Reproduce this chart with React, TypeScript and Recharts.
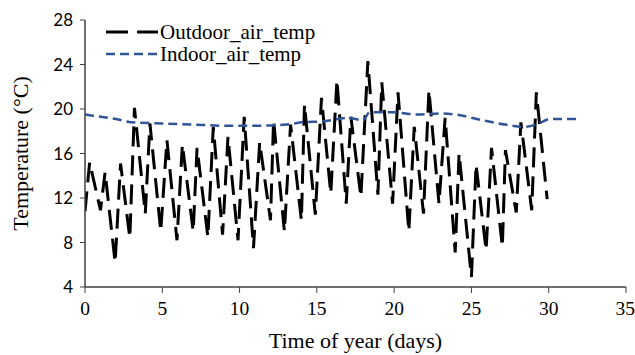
import { Legend, Line, LineChart, XAxis, YAxis } from "recharts";

// Outdoor air temperature: daily lows and highs (day, °C)
const OUT_DAYS = [
  0, 0.3, 1.0, 1.3, 1.95, 2.3, 2.9, 3.2, 3.9, 4.2, 4.9, 5.3, 5.95, 6.3, 7.0, 7.25,
  7.95, 8.3, 8.9, 9.25, 9.9, 10.3, 10.9, 11.3, 12.0, 12.2, 12.9, 13.3, 14.0, 14.2,
  14.9, 15.3, 15.9, 16.3, 16.9, 17.2, 17.85, 18.3, 18.95, 19.2, 19.9, 20.25, 20.95,
  21.3, 21.9, 22.25, 22.9, 23.3, 23.95, 24.2, 25.0, 25.3, 25.95, 26.3, 27.0, 27.2,
  27.9, 28.2, 28.9, 29.2, 29.9,
];
const OUT_TEMP = [
  10.8, 15.2, 10.9, 14.3, 6.2, 15.1, 8.4, 20.1, 10.6, 18.7, 9.0, 17.2, 8.2, 16.8, 9.0, 16.5,
  8.5, 18.4, 8.7, 17.5, 8.2, 19.3, 7.5, 17.0, 10.0, 19.0, 9.0, 18.6, 10.0, 20.4,
  10.5, 21.0, 12.4, 22.6, 11.5, 19.3, 12.1, 24.3, 12.3, 22.4, 11.5, 21.5, 9.0,
  18.4, 10.6, 21.7, 11.5, 19.2, 7.1, 16.0, 4.9, 15.0, 7.3, 16.5, 7.6, 16.3,
  10.7, 18.8, 10.9, 21.5, 11.9,
];

// Indoor air temperature (day, °C)
const IN_DAYS = [
  0, 1, 2, 3, 5, 7, 9, 11, 13, 14, 15.5, 17, 18, 18.4, 20, 21.5, 23, 24, 25.7, 27.2,
  28.4, 29.2, 30.1, 31.8,
];
const IN_TEMP = [
  19.5, 19.3, 19.1, 18.8, 18.7, 18.6, 18.5, 18.5, 18.6, 18.8, 18.9, 19.2, 19.0, 19.7,
  19.7, 19.5, 19.6, 19.5, 19.0, 18.6, 18.4, 18.6, 19.1, 19.1,
];

const X_TICKS = [0, 5, 10, 15, 20, 25, 30, 35];
const Y_TICKS = [4, 8, 12, 16, 20, 24, 28];

const outdoor = OUT_DAYS.map((day, i) => ({ day, temp: OUT_TEMP[i] }));
const indoor = IN_DAYS.map((day, i) => ({ day, temp: IN_TEMP[i] }));

const SERIF = "'Liberation Serif', 'Times New Roman', serif";
const SANS = "Lato, 'Open Sans', sans-serif";
const OUT_COLOR = "#000000";
const IN_COLOR = "#2F5597";
const AXIS_COLOR = "#404040";

const LEGEND_ITEMS = [
  { name: "Outdoor_air_temp", color: OUT_COLOR, width: 3, dash: "22 9" },
  { name: "Indoor_air_temp", color: IN_COLOR, width: 2.5, dash: "9 5" },
];

function LegendBox() {
  return (
    <div style={{ fontFamily: SERIF, fontSize: 21, lineHeight: "22px", color: "#000" }}>
      {LEGEND_ITEMS.map((it) => (
        <div key={it.name} style={{ display: "flex", alignItems: "center", whiteSpace: "nowrap", height: 22 }}>
          <svg width={54} height={8} style={{ marginRight: 2 }}>
            <line
              x1={2}
              x2={54}
              y1={4}
              y2={4}
              stroke={it.color}
              strokeWidth={it.width}
              strokeDasharray={it.dash}
            />
          </svg>
          <span>{it.name}</span>
        </div>
      ))}
    </div>
  );
}

export default function App() {
  return (
    <div style={{ position: "absolute", left: 0, top: 0, width: 635, height: 355, background: "#fff" }}>
      <LineChart width={635} height={355} margin={{ top: 20, right: 9, bottom: 8, left: 0 }}>
        <XAxis
          type="number"
          dataKey="day"
          domain={[0, 35]}
          ticks={X_TICKS}
          allowDataOverflow
          height={60}
          tickSize={6}
          tickMargin={8}
          axisLine={{ stroke: AXIS_COLOR, strokeWidth: 1.5 }}
          tickLine={{ stroke: AXIS_COLOR }}
          tick={{ fill: "#000", fontSize: 19.5, fontFamily: SERIF }}
          label={{
            value: "Time of year (days)",
            position: "insideBottom",
            offset: -1,
            fill: "#000",
            fontSize: 22,
            fontFamily: SERIF,
          }}
        />
        <YAxis
          type="number"
          dataKey="temp"
          domain={[4, 28]}
          ticks={Y_TICKS}
          allowDataOverflow
          width={85}
          tickSize={5}
          tickMargin={7}
          axisLine={{ stroke: AXIS_COLOR, strokeWidth: 1.5 }}
          tickLine={{ stroke: AXIS_COLOR }}
          tick={{ fill: "#000", fontSize: 17, fontFamily: SANS }}
          label={{
            value: "Temperature (°C)",
            angle: -90,
            position: "insideLeft",
            offset: 20,
            textAnchor: "middle",
            fill: "#000",
            fontSize: 22,
            fontFamily: SERIF,
          }}
        />
        <Legend
          layout="vertical"
          align="center"
          verticalAlign="middle"
          wrapperStyle={{ left: 104, top: 21, width: 280, height: 44 }}
          content={() => <LegendBox />}
        />
        <Line
          data={outdoor}
          dataKey="temp"
          name="Outdoor_air_temp"
          type="linear"
          stroke={OUT_COLOR}
          strokeWidth={3}
          strokeDasharray="20 9"
          dot={false}
          isAnimationActive={false}
        />
        <Line
          data={indoor}
          dataKey="temp"
          name="Indoor_air_temp"
          type="monotone"
          stroke={IN_COLOR}
          strokeWidth={2.5}
          strokeDasharray="9 5"
          dot={false}
          isAnimationActive={false}
        />
      </LineChart>
    </div>
  );
}
